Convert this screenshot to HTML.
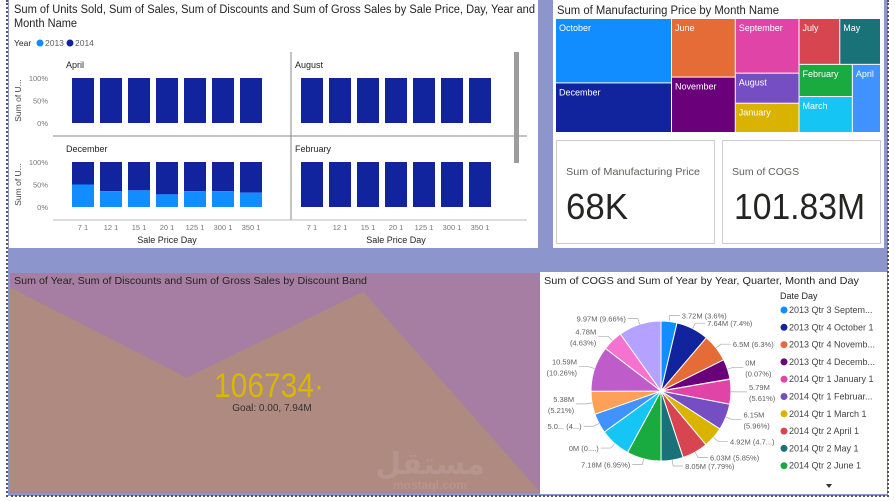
<!DOCTYPE html>
<html><head><meta charset="utf-8"><style>
body{margin:0;width:895px;height:501px;overflow:hidden;background:#fff;font-family:"Liberation Sans","DejaVu Sans",sans-serif;position:relative}
.abs{position:absolute}
</style></head><body>
<div class="abs" style="left:8px;top:0;width:880px;height:496px;background:#8c96cd"></div>
<div class="abs" style="left:6px;top:0;height:497px;border-left:2px dotted #555"></div>
<div class="abs" style="left:6px;top:495px;width:883px;border-top:2px dotted #555"></div>
<div class="abs" style="left:887px;top:0;height:497px;border-left:2px dotted #555"></div>

<svg class="abs" style="left:0;top:0" width="895" height="501">
<g id="bars-panel">
 <rect x="9" y="0" width="529" height="248" fill="#fff"/>
 <text x="14" y="13" font-size="11.5" fill="#252423" textLength="521" lengthAdjust="spacingAndGlyphs">Sum of Units Sold, Sum of Sales, Sum of Discounts and Sum of Gross Sales by Sale Price, Day, Year and</text>
 <text x="14" y="27" font-size="11.5" fill="#252423" textLength="63" lengthAdjust="spacingAndGlyphs">Month Name</text>
 <text x="14" y="46" font-size="8.5" fill="#252423">Year</text>
 <circle cx="40" cy="43" r="3.5" fill="#118dff"/>
 <text x="45" y="46" font-size="8.5" fill="#605e5c">2013</text>
 <circle cx="70" cy="43" r="3.5" fill="#12239e"/>
 <text x="75" y="46" font-size="8.5" fill="#605e5c">2014</text>
 <line x1="291" y1="52" x2="291" y2="220" stroke="#888"/>
 <line x1="53" y1="136" x2="527" y2="136" stroke="#888"/>
 <line x1="53" y1="220" x2="527" y2="220" stroke="#bbb"/>
 <rect x="514" y="52" width="5" height="111" fill="#9c9c9c"/>
 <g id="facets"></g>
</g>

<g>
 <rect x="553" y="0" width="331" height="248" fill="#fff"/>
 <text x="557" y="14" font-size="11.5" fill="#252423" textLength="222" lengthAdjust="spacingAndGlyphs">Sum of Manufacturing Price by Month Name</text>
 <g id="treemap"></g>
 <rect x="556.5" y="140.5" width="158" height="103" fill="#fff" stroke="#ccc"/>
 <text x="566" y="175" font-size="10.5" fill="#605e5c" textLength="134" lengthAdjust="spacingAndGlyphs">Sum of Manufacturing Price</text>
 <text x="566" y="219" font-size="36" fill="#252423" textLength="62" lengthAdjust="spacingAndGlyphs">68K</text>
 <rect x="722.5" y="140.5" width="158" height="103" fill="#fff" stroke="#ccc"/>
 <text x="732" y="175" font-size="10.5" fill="#605e5c">Sum of COGS</text>
 <text x="734" y="219" font-size="36" fill="#252423" textLength="131" lengthAdjust="spacingAndGlyphs">101.83M</text>
</g>

<g>
 <rect x="10" y="273" width="530" height="220" fill="#a67ea3"/>
 <g id="area"></g>
 <text x="14" y="284" font-size="10.5" fill="#252423" textLength="353" lengthAdjust="spacingAndGlyphs">Sum of Year, Sum of Discounts and Sum of Gross Sales by Discount Band</text>
 <text x="214" y="397" font-size="34" fill="#d9b600" textLength="110" lengthAdjust="spacingAndGlyphs">106734·</text>
 <text x="272" y="411" font-size="10" fill="#333" text-anchor="middle">Goal: 0.00, 7.94M</text>
 <text x="430" y="474" font-size="30" font-weight="bold" fill="#c9a8a8" fill-opacity="0.35" text-anchor="middle" font-family="DejaVu Sans, sans-serif">مستقل</text>
 <text x="430" y="489" font-size="12" font-weight="bold" fill="#c9a8a8" fill-opacity="0.35" text-anchor="middle">mostaql.com</text>
</g>

<g>
 <rect x="540" y="272" width="347" height="222" fill="#fff"/>
 <text x="544" y="284" font-size="10.5" fill="#252423" textLength="315" lengthAdjust="spacingAndGlyphs">Sum of COGS and Sum of Year by Year, Quarter, Month and Day</text>
 <g id="pie"></g>
 <text x="780" y="299" font-size="9" fill="#252423">Date Day</text>
 <g id="pielegend"></g>
 <path d="M826 484 l6 0 l-3 4z" fill="#333"/>
</g>
</svg>

<script>
const NS="http://www.w3.org/2000/svg";
function mk(p,tag,attrs){const e=document.createElementNS(NS,tag);for(const k in attrs)e.setAttribute(k,attrs[k]);p.appendChild(e);return e;}

// ---- facet bar chart data ----
const months=["April","August","December","February"];
const priceDays=["7 1","12 1","15 1","20 1","125 1","300 1","350 1"];
const share2013April=[0,0,0,0,0,0,0];
const share2013August=[0,0,0,0,0,0,0];
const share2013December=[50,35,37,28,35,35,32];
const share2013February=[0,0,0,0,0,0,0];
const pctTicks=["0%","50%","100%"];

const facets=document.getElementById('facets');
const shares=[share2013April,share2013August,share2013December,share2013February];
const origins=[[72,78],[301,78],[72,162],[301,162]];
const plotH=45, step=28, bw=22;
months.forEach((m,i)=>{
 const [ox,oy]=origins[i];
 const yS=v=>oy+plotH-v/100*plotH;
 const t=mk(facets,'text',{x:ox-6,y:oy-10,'font-size':9,fill:'#252423'});t.textContent=m;
 
 
 if(i%2===0){
  [0,50,100].forEach((v,k)=>{const tt=mk(facets,'text',{x:48,y:yS(v)+3,'font-size':7.5,fill:'#777','text-anchor':'end'});tt.textContent=pctTicks[k];});
  const yl=mk(facets,'text',{x:21,y:oy+plotH/2,'font-size':8.5,fill:'#444','text-anchor':'middle',transform:`rotate(-90 21 ${oy+plotH/2})`});yl.textContent="Sum of U...";
  
  
 }
 priceDays.forEach((d,j)=>{
  const x=ox+j*step;const s=shares[i][j];
  const b=mk(facets,'rect',{x:x,y:yS(100),width:bw,height:yS(s)-yS(100),fill:'#12239e'});
  
  
  if(s>0){const b2=mk(facets,'rect',{x:x,y:yS(s),width:bw,height:yS(0)-yS(s),fill:'#118dff'});
   
   }
  if(i>=2){const lt=mk(facets,'text',{x:x+bw/2,y:230,'font-size':7.5,fill:'#777','text-anchor':'middle'});lt.textContent=d;}
 });
 if(i>=2){const xt=mk(facets,'text',{x:ox+3*step+bw/2,y:243,'font-size':9,fill:'#252423','text-anchor':'middle'});xt.textContent="Sale Price Day";
  
  }
});

// ---- treemap ----
const tmMonths=["October","December","June","November","September","August","January","July","May","February","March","April"];
const tmValues=[7.4,5.7,3.7,3.5,3.45,1.9,1.85,1.85,1.85,1.7,1.9,1.9];
const tmColors=["#118dff","#12239e","#e66c37","#6b007b","#e044a7","#744ec2","#d9b300","#d64550","#197278","#1aab40","#15c6f4","#4092ff"];
const tm=document.getElementById('treemap');
const TX=556,TY=19,TW=325,TH=114;
const groups=[[0,1],[2,3],[4,5,6],[7,8,9,10,11]];
const total=tmValues.reduce((a,b)=>a+b,0);
let cx=TX;
groups.forEach((g,gi)=>{
 const gs=g.reduce((a,k)=>a+tmValues[k],0);
 const w=TW*gs/total;
 if(gi<3){let cy=TY;g.forEach(k=>{const h=TH*tmValues[k]/gs;drawTm(k,cx,cy,w,h);cy+=h;});}
 else{
  const top=tmValues[7]+tmValues[8];const th=TH*top/gs;
  let xx=cx;[7,8].forEach(k=>{const ww=w*tmValues[k]/top;drawTm(k,xx,TY,ww,th);xx+=ww;});
  const bot=gs-top;const bh=TH-th;const fm=tmValues[9]+tmValues[10];const fw=w*fm/bot;
  let yy=TY+th;[9,10].forEach(k=>{const hh=bh*tmValues[k]/fm;drawTm(k,cx,yy,fw,hh);yy+=hh;});
  drawTm(11,cx+fw,TY+th,w-fw,bh);
 }
 cx+=w;
});
function drawTm(k,x,y,w,h){
 const r=mk(tm,'rect',{x:x,y:y,width:w-1,height:h-1,fill:tmColors[k]});
 
 
 const t=mk(tm,'text',{x:x+3,y:y+12,'font-size':9,fill:'#fff'});t.textContent=tmMonths[k];
}

// ---- area chart ----
const bands=["None","Low","Medium","High"];
const areaValues=[0.93,0.52,0.91,0.0];
const area=document.getElementById('area');
const AX0=10,AX1=540,AY0=492,AH=220;
const ax=i=>AX0+i*(AX1-AX0)/(bands.length-1);
const ay=v=>AY0-v*AH;
let d=`M${AX0} ${AY0}`;
areaValues.forEach((v,i)=>{d+=` L${ax(i)} ${ay(v)}`;});
d+=` L${AX1} ${AY0}Z`;
const ap=mk(area,'path',{d:d,fill:'#ae8a80'});



// ---- pie ----
const pieLabels=["3.72M (3.6%)","7.64M (7.4%)","6.5M (6.3%)","0M|(0.07%)","0M (...)","5.79M|(5.61%)","6.15M|(5.96%)","4.92M (4.7...)","6.03M (5.85%)","8.05M (7.79%)","7.18M (6.95%)","0M (0....)","5.0... (4...)","5.38M|(5.21%)","10.59M|(10.26%)","4.78M|(4.63%)","9.97M (9.66%)"];
const pieValues=[3.6,7.4,6.3,4.5,0.07,5.6,5.96,4.7,5.85,5.0,7.79,6.95,4.5,5.21,10.26,4.63,9.66];
const pieColors=["#118dff","#12239e","#e66c37","#6b007b","#e044a7","#e044a7","#744ec2","#d9b300","#d64550","#197278","#1aab40","#15c6f4","#4092ff","#ffa058","#be5dc9","#f472d0","#b5a1ff"];
const pie=document.getElementById('pie');
const PCX=661,PCY=391,PR=70;
const ptot=pieValues.reduce((a,b)=>a+b,0);
let acc=0;
pieValues.forEach((v,i)=>{
 const a0=acc/ptot*2*Math.PI;acc+=v;const a1=acc/ptot*2*Math.PI;
 const p=(a)=>[PCX+PR*Math.sin(a),PCY-PR*Math.cos(a)];
 const [x0,y0]=p(a0),[x1,y1]=p(a1);
 const s=mk(pie,'path',{d:`M${PCX} ${PCY} L${x0} ${y0} A${PR} ${PR} 0 ${a1-a0>Math.PI?1:0} 1 ${x1} ${y1}Z`,fill:pieColors[i],stroke:'#fff','stroke-width':1});
 
 
 if(v<0.5)return;
 const am=(a0+a1)/2;const right=Math.sin(am)>=0;
 const ex=PCX+(PR+6)*Math.sin(am),ey=PCY-(PR+6)*Math.cos(am);
 const lx=right?ex+10:ex-10;
 mk(pie,'polyline',{points:`${PCX+PR*Math.sin(am)},${PCY-PR*Math.cos(am)} ${ex},${ey} ${lx},${ey}`,fill:'none',stroke:'#aaa','stroke-width':0.7});
 const parts=pieLabels[i].split('|');
 parts.forEach((pt,k)=>{const t=mk(pie,'text',{x:right?lx+2:lx-2,y:ey+3+k*11-(parts.length-1)*5,'font-size':7.5,fill:'#605e5c','text-anchor':right?'start':'end'});t.textContent=pt;});
});

// ---- pie legend ----
const legendItems=["2013 Qtr 3 Septem...","2013 Qtr 4 October 1","2013 Qtr 4 Novemb...","2013 Qtr 4 Decemb...","2014 Qtr 1 January 1","2014 Qtr 1 Februar...","2014 Qtr 1 March 1","2014 Qtr 2 April 1","2014 Qtr 2 May 1","2014 Qtr 2 June 1"];
const legendColors=["#118dff","#12239e","#e66c37","#6b007b","#e044a7","#744ec2","#d9b300","#d64550","#197278","#1aab40"];
const lg=document.getElementById('pielegend');
legendItems.forEach((t,i)=>{
 const y=313+i*17.3;
 const c=mk(lg,'circle',{cx:784,cy:y-3,r:3.5,fill:legendColors[i]});
 
 
 const tx=mk(lg,'text',{x:789,y:y,'font-size':9,fill:'#444'});tx.textContent=t;
});
</script>
</body></html>
